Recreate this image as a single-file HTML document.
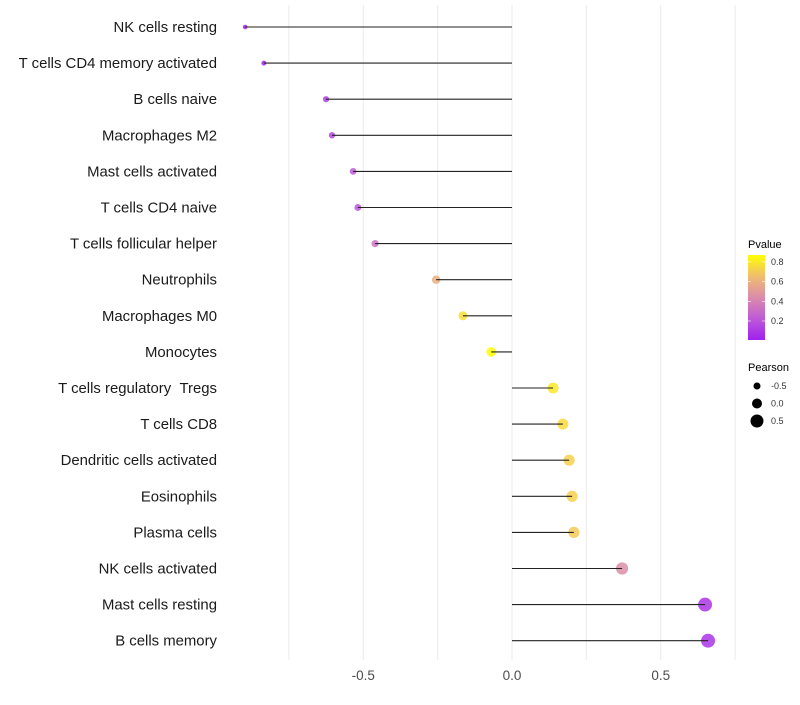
<!DOCTYPE html>
<html><head><meta charset="utf-8"><style>
body{margin:0;background:#fff;}
svg{font-family:"Liberation Sans",sans-serif;}
</style></head><body>
<svg id="chart" width="800" height="700"></svg>
<script>
const categories=["NK cells resting","T cells CD4 memory activated","B cells naive","Macrophages M2","Mast cells activated","T cells CD4 naive","T cells follicular helper","Neutrophils","Macrophages M0","Monocytes","T cells regulatory\u00a0\u00a0Tregs","T cells CD8","Dendritic cells activated","Eosinophils","Plasma cells","NK cells activated","Mast cells resting","B cells memory"];
const pearson=[-0.897,-0.834,-0.625,-0.605,-0.534,-0.518,-0.46,-0.255,-0.165,-0.07,0.138,0.171,0.192,0.202,0.208,0.37,0.649,0.659];
const pvalues=[0.01,0.03,0.12,0.14,0.22,0.2,0.32,0.6,0.76,0.87,0.8,0.75,0.72,0.72,0.7,0.45,0.08,0.08];
const xTicks=[-0.5,0,0.5];
const xTickLabels=["-0.5","0.0","0.5"];
const legendP=[0.8,0.6,0.4,0.2];
const legendPearson=[-0.5,0,0.5];

const NS="http://www.w3.org/2000/svg";
const svg=document.getElementById('chart');
const x=v=>512+v*297.5;
const y=i=>27+i*36.1;
const pmin=0.007,pmax=0.87;
const stops=[[0,[160,32,240]],[0.25,[190,90,215]],[0.5,[218,140,170]],[0.75,[240,188,112]],[1,[255,255,0]]];
function col(p){
  let t=Math.max(0,Math.min(1,(p-pmin)/(pmax-pmin)));
  let k=0;while(k<stops.length-2&&t>stops[k+1][0])k++;
  let a=stops[k],b=stops[k+1];
  let u=(t-a[0])/(b[0]-a[0]);
  let c=a[1].map((v,j)=>Math.round(v+(b[1][j]-v)*u));
  return `rgb(${c[0]},${c[1]},${c[2]})`;
}
const rad=v=>5+3*v;
function mk(tag,attrs,parent){const e=document.createElementNS(NS,tag);for(const k in attrs)e.setAttribute(k,attrs[k]);(parent||svg).appendChild(e);return e;}

for(let g=-0.75;g<=0.76;g+=0.25){
  const l=mk('line',{x1:x(g),x2:x(g),y1:5,y2:660,stroke:'#ebebeb','stroke-width':1});
  
  
}
xTicks.forEach((v,i)=>{
  const t=mk('text',{x:x(v),y:680,'text-anchor':'middle','font-size':13.5,fill:'#4d4d4d'});
  t.textContent=xTickLabels[i];
  
  
});
categories.forEach((c,i)=>{
  const t=mk('text',{x:217,y:y(i)+5,'text-anchor':'end','font-size':14.9,fill:'#1a1a1a'});
  t.textContent=c;
  
  
  const p=mk('circle',{cx:x(pearson[i]),cy:y(i),r:rad(pearson[i]),fill:col(pvalues[i]),'fill-opacity':0.85});
  
  
  const l=mk('line',{x1:x(0),x2:x(pearson[i]),y1:y(i),y2:y(i),stroke:'#222','stroke-width':1.1});
  
  
});
const lt=mk('text',{x:748,y:248,'font-size':11,fill:'#000'});lt.textContent='Pvalue';


const defs=mk('defs',{});
const grad=mk('linearGradient',{id:'pg',x1:0,y1:1,x2:0,y2:0},defs);
for(let t=0;t<=1.001;t+=0.1)mk('stop',{offset:t,'stop-color':col(pmin+t*(pmax-pmin))},grad);
const bar=mk('rect',{x:748,y:255,width:17,height:85,fill:'url(#pg)'});


const ly=p=>340-(p-pmin)/(pmax-pmin)*85;
legendP.forEach(p=>{
  mk('line',{x1:748,x2:751,y1:ly(p),y2:ly(p),stroke:'#fff','stroke-width':0.6});
  mk('line',{x1:762,x2:765,y1:ly(p),y2:ly(p),stroke:'#fff','stroke-width':0.6});
  const t=mk('text',{x:771,y:ly(p)+3,'font-size':9,fill:'#333'});t.textContent=p.toFixed(1);
  
  
});
const st=mk('text',{x:748,y:371,'font-size':11,fill:'#000'});st.textContent='Pearson';


legendPearson.forEach((v,i)=>{
  const cy=386+i*17.5;
  const c=mk('circle',{cx:757,cy:cy,r:rad(v),fill:'#000'});
  
  
  const t=mk('text',{x:771,y:cy+3,'font-size':9,fill:'#333'});t.textContent=v.toFixed(1);
  
  
});
</script>
</body></html>
